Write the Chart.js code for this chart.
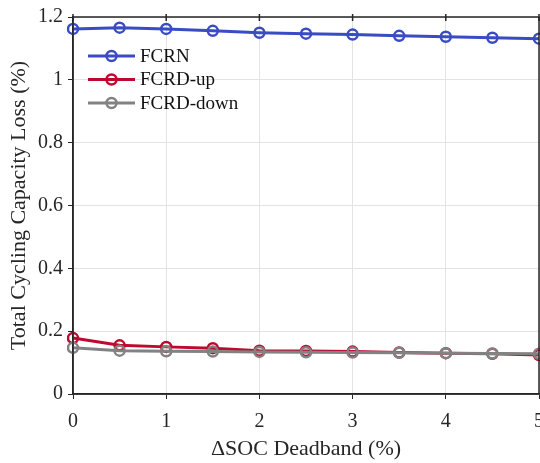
<!DOCTYPE html>
<html>
<head>
<meta charset="utf-8">
<script src="https://cdn.jsdelivr.net/npm/chart.js@4"></script>
<style>
  html, body { margin: 0; padding: 0; background: #fff; }
  #wrap { width: 540px; height: 463px; }
</style>
</head>
<body>
<div id="wrap"><canvas id="chart" width="540" height="463"></canvas></div>
<script>
const deadband = [0, 0.5, 1, 1.5, 2, 2.5, 3, 3.5, 4, 4.5, 5];
const fcrn = [1.162, 1.166, 1.162, 1.156, 1.150, 1.147, 1.144, 1.140, 1.137, 1.134, 1.131];
const fcrdUp = [0.178, 0.155, 0.150, 0.146, 0.138, 0.137, 0.135, 0.132, 0.130, 0.128, 0.124];
const fcrdDown = [0.147, 0.138, 0.136, 0.135, 0.134, 0.133, 0.132, 0.131, 0.130, 0.129, 0.128];

const FONT = "'Liberation Serif', 'Times New Roman', serif";

function toPoints(xs, ys) {
    return xs.map((x, i) => ({ x: x, y: ys[i] }));
}

function series(label, ys, color, order) {
    return {
        label: label,
        data: toPoints(deadband, ys),
        order: order,
        borderColor: color,
        backgroundColor: color,
        borderWidth: 3,
        pointRadius: 5,
        pointBorderWidth: 2.5,
        pointBackgroundColor: 'rgba(0,0,0,0)',
        pointBorderColor: color,
        tension: 0,
        clip: 6
    };
}

// box around the plot + legend drawn inside the axes
const boxAndLegend = {
    id: 'boxAndLegend',
    afterDraw(chart) {
        const ctx = chart.ctx;
        const a = chart.chartArea;
        ctx.save();
        ctx.strokeStyle = '#262626';
        ctx.lineWidth = 1.5;
        ctx.strokeRect(a.left, a.top, a.right - a.left, a.bottom - a.top);

        // tick marks on top edge
        const xs = chart.scales.x;
        xs.ticks.forEach(t => {
            const px = xs.getPixelForValue(t.value);
            ctx.beginPath();
            ctx.moveTo(px, a.top - 3);
            ctx.lineTo(px, a.top + 4);
            ctx.stroke();
        });

        ctx.font = '19px ' + FONT;
        ctx.textBaseline = 'middle';
        chart.data.datasets.forEach((ds, i) => {
            const y = 56 + i * 23.5;
            ctx.strokeStyle = ds.borderColor;
            ctx.lineWidth = 3;
            ctx.beginPath();
            ctx.moveTo(88, y);
            ctx.lineTo(135, y);
            ctx.stroke();
            ctx.lineWidth = 2.5;
            ctx.beginPath();
            ctx.arc(111.5, y, 5, 0, Math.PI * 2);
            ctx.stroke();
            ctx.fillStyle = '#111';
            ctx.fillText(ds.label, 140, y + 1);
        });
        ctx.restore();
    }
};

const ctx = document.getElementById('chart').getContext('2d');
new Chart(ctx, {
    type: 'line',
    data: {
        datasets: [
            series('FCRN', fcrn, '#3a4cc4', 2),
            series('FCRD-up', fcrdUp, '#be0a2e', 1),
            series('FCRD-down', fcrdDown, '#828282', 0)
        ]
    },
    options: {
        responsive: false,
        animation: false,
        layout: { autoPadding: false, padding: { top: 13, right: 1, left: 0, bottom: 0 } },
        plugins: {
            legend: { display: false },
            tooltip: { enabled: false }
        },
        scales: {
            x: {
                type: 'linear',
                min: 0,
                max: 5,
                afterFit(scale) {
                    scale.height = 69;
                    scale.paddingLeft = 0;
                    scale.paddingRight = 0;
                },
                ticks: {
                    stepSize: 1,
                    color: '#262626',
                    padding: 11,
                    font: { family: FONT, size: 20 }
                },
                grid: { color: '#e3e3e3', lineWidth: 1, tickLength: 5, tickColor: '#262626' },
                border: { color: '#262626', width: 1.5 },
                title: {
                    display: true,
                    text: 'ΔSOC Deadband (%)',
                    color: '#262626',
                    padding: { top: 0, bottom: 1 },
                    font: { family: FONT, size: 22 }
                }
            },
            y: {
                min: 0,
                max: 1.2,
                afterFit(scale) { scale.width = 73; },
                ticks: {
                    stepSize: 0.2,
                    color: '#262626',
                    padding: 5,
                    font: { family: FONT, size: 20 },
                    callback: v => Number(v.toFixed(1)).toString()
                },
                grid: { color: '#e3e3e3', lineWidth: 1, tickLength: 5, tickColor: '#262626' },
                border: { color: '#262626', width: 1.5 },
                title: {
                    display: true,
                    text: 'Total Cycling Capacity Loss (%)',
                    color: '#262626',
                    padding: { top: 6, bottom: 0 },
                    font: { family: FONT, size: 22 }
                }
            }
        }
    },
    plugins: [boxAndLegend]
});
</script>
</body>
</html>
